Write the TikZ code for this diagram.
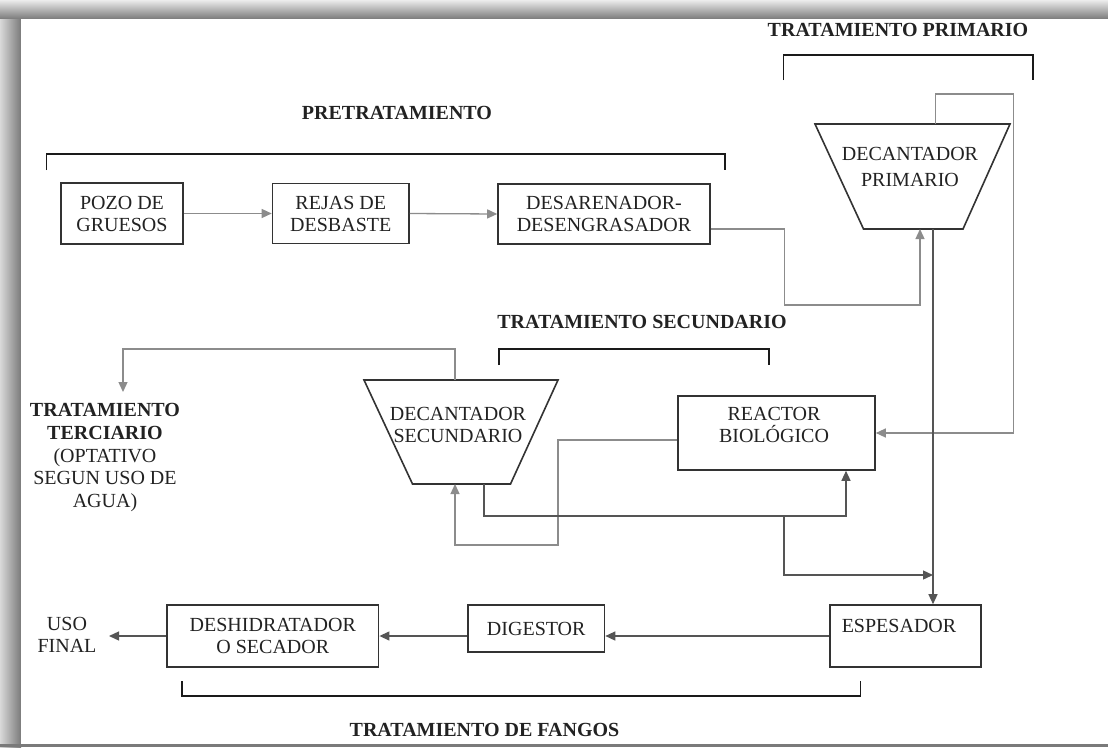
\documentclass[tikz,border=0pt]{standalone}
\usepackage{fontspec}
\setmainfont{Liberation Serif}
\usetikzlibrary{arrows.meta,calc}
\definecolor{txt}{HTML}{222222}
\definecolor{boxc}{HTML}{333333}
\definecolor{lgray}{HTML}{8C8C8C}
\definecolor{dgray}{HTML}{555555}
\definecolor{brk}{HTML}{1A1A1A}
\definecolor{frm}{HTML}{7A7A7A}
\begin{document}
\begin{tikzpicture}[x=1pt,y=-1pt,
  every node/.style={text=txt, font=\fontsize{20}{22}\selectfont},
  box/.style={draw=boxc, line width=1.6pt, inner sep=0pt, align=center},
  head/.style={font=\fontsize{20}{22}\selectfont\bfseries, inner sep=0pt},
  lbl/.style={inner sep=0pt, align=center},
  flowl/.style={draw=lgray, line width=1.3pt, -{Triangle[length=10pt,width=9pt]}},
  flowd/.style={draw=dgray, line width=1.3pt, -{Triangle[length=10pt,width=9pt]}},
  bracket/.style={draw=brk, line width=1.5pt},
  trap/.style={draw=boxc, line width=1.6pt, line join=miter}
]
\useasboundingbox (0,0) rectangle (1108,747);
% frame
\fill[white] (0,0) rectangle (1108,747);
\shade[top color=white!85!gray, bottom color=frm] (0,0) rectangle (1108,19);
\shade[left color=white!70!gray, right color=frm] (0,19) rectangle (21,747);
\fill[frm] (0,744) rectangle (1108,747);
\fill[white] (21,19) rectangle (1108,744);

% headings
\node[head] (hpre) at (397,113) {PRETRATAMIENTO};
\node[head] (hprim) at (898,30) {TRATAMIENTO PRIMARIO};
\node[head] (hsec) at (642,322) {TRATAMIENTO SECUNDARIO};
\node[head] (hfan) at (484.5,730) {TRATAMIENTO DE FANGOS};
\node[lbl, font=\fontsize{20}{22.7}\selectfont] (terc) at (105,457.5)
  {\textbf{TRATAMIENTO}\\\textbf{TERCIARIO}\\(OPTATIVO\\SEGUN USO DE\\AGUA)};

% brackets
\draw[bracket] (46.4,170) -- (46.4,154) -- (725,154) -- (725,170);
\draw[bracket] (783.5,80) -- (783.5,55) -- (1033,55) -- (1033,80);
\draw[bracket] (499,365) -- (499,349) -- (769,349) -- (769,365);
\draw[bracket] (182,681) -- (182,696) -- (860.6,696) -- (860.6,681);

% boxes
\node[box, minimum width=122pt, minimum height=61pt] (pozo) at (122,213.5) {POZO DE\\GRUESOS};
\node[box, minimum width=136.5pt, minimum height=60pt] (rejas) at (340.75,213.5) {REJAS DE\\DESBASTE};
\node[box, minimum width=212pt, minimum height=60pt] (desar) at (604,214) {DESARENADOR-\\DESENGRASADOR};
\node[box, minimum width=197pt, minimum height=74pt] (reactor) at (776.5,433) {};
\node[lbl] (reactort) at (774,424.5) {REACTOR\\BIOLÓGICO};
\node[box, minimum width=151pt, minimum height=62pt] (espes) at (905.5,636) {};
\node[lbl] (espest) at (899,626) {ESPESADOR};
\node[box, minimum width=136.5pt, minimum height=47pt] (digest) at (536.25,628.5) {DIGESTOR};
\node[box, minimum width=211.6pt, minimum height=62pt] (desh) at (272.8,636) {DESHIDRATADOR\\O SECADOR};
\node[lbl] (uso) at (67,634.5) {USO\\FINAL};

% trapezoids
\coordinate (p1) at (815,124); \coordinate (p2) at (1010,124);
\coordinate (p3) at (963,229); \coordinate (p4) at (863.5,229);
\draw[trap] (p1) -- (p2) -- (p3) -- (p4) -- cycle;
\node[lbl, font=\fontsize{20}{26}\selectfont] (dprim) at (910,167) {DECANTADOR\\PRIMARIO};
\coordinate (ptop) at (935.6,124);
\coordinate (pbotin) at (920,229);
\coordinate (pbotout) at (933,229);

\coordinate (s1) at (364,380); \coordinate (s2) at (558,380);
\coordinate (s3) at (510.5,484); \coordinate (s4) at (412.5,484);
\draw[trap] (s1) -- (s2) -- (s3) -- (s4) -- cycle;
\node[lbl] (dsec) at (458,424.5) {DECANTADOR\\SECUNDARIO};
\coordinate (stop) at (455,380);
\coordinate (sbotin) at (455,484);
\coordinate (sbotout) at (484,484);

% helper coordinates
\coordinate (c1) at (784.5,305);
\coordinate (c2) at (1013.5,94);
\coordinate (c3) at (455,349);
\coordinate (tercarr) at (123,392);
\coordinate (c4) at (558,545);
\coordinate (c5) at (846,516);
\coordinate (c6) at (784,516);
\coordinate (c7) at (933,575);
\coordinate (usoarr) at (109,636);

% connectors
\draw[flowl] (pozo.east) -- (rejas.west);
\draw[flowl] (rejas.east) -- (desar.west);
\draw[flowl] ([yshift=-15pt]desar.east) -| (c1) -| (pbotin);
\draw[flowl] (ptop) |- (c2) |- (reactor.east);
\draw[flowd] (pbotout) -- (pbotout |- espes.north);
\draw[flowl] (stop) -- (c3) -| (tercarr);
\draw[flowl] ([yshift=-7pt]reactor.west) -| (c4) -| (sbotin);
\draw[flowd] (sbotout) |- (c5) -- (reactor.south -| c5);
\draw[flowd] (c6) |- (c7);
\draw[flowd] (espes.west) -- (espes.west -| digest.east);
\draw[flowd] (digest.west |- espes.west) -- (desh.east |- espes.west);
\draw[flowd] (desh.west |- espes.west) -- (usoarr);
\end{tikzpicture}
\end{document}
